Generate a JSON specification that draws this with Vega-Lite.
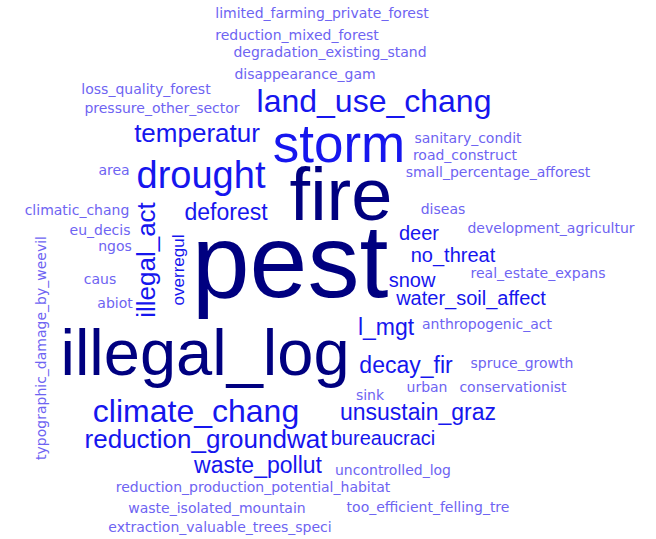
{
  "$schema": "https://vega.github.io/schema/vega-lite/v6.json",
  "width": 656,
  "height": 539,
  "autosize": {"type": "fit", "contains": "padding"},
  "padding": 0,
  "background": "white",
  "config": {"view": {"stroke": null}},
  "data": {
    "values": [
      {"word": "limited_farming_private_forest", "n": 1, "col": 322, "row": 18, "orient": "h"},
      {"word": "reduction_mixed_forest", "n": 1, "col": 297, "row": 40, "orient": "h"},
      {"word": "degradation_existing_stand", "n": 1, "col": 330, "row": 57, "orient": "h"},
      {"word": "disappearance_gam", "n": 1, "col": 305, "row": 79, "orient": "h"},
      {"word": "loss_quality_forest", "n": 1, "col": 146, "row": 94, "orient": "h"},
      {"word": "pressure_other_sector", "n": 1, "col": 162, "row": 113, "orient": "h"},
      {"word": "land_use_chang", "n": 7, "col": 374, "row": 112, "orient": "h"},
      {"word": "temperatur", "n": 5, "col": 197, "row": 142, "orient": "h"},
      {"word": "storm", "n": 14, "col": 339, "row": 162, "orient": "h"},
      {"word": "sanitary_condit", "n": 1, "col": 468, "row": 143, "orient": "h"},
      {"word": "road_construct", "n": 1, "col": 465, "row": 160, "orient": "h"},
      {"word": "small_percentage_afforest", "n": 1, "col": 498, "row": 177, "orient": "h"},
      {"word": "area", "n": 1, "col": 114, "row": 175, "orient": "h"},
      {"word": "drought", "n": 9, "col": 201, "row": 188, "orient": "h"},
      {"word": "fire", "n": 21, "col": 341, "row": 220, "orient": "h"},
      {"word": "climatic_chang", "n": 1, "col": 77, "row": 215, "orient": "h"},
      {"word": "deforest", "n": 4, "col": 226, "row": 220, "orient": "h"},
      {"word": "diseas", "n": 1, "col": 443, "row": 214, "orient": "h"},
      {"word": "development_agricultur", "n": 1, "col": 551, "row": 233, "orient": "h"},
      {"word": "eu_decis", "n": 1, "col": 100, "row": 235, "orient": "h"},
      {"word": "illegal_act", "n": 5, "col": 155, "row": 260, "orient": "v"},
      {"word": "ngos", "n": 1, "col": 115, "row": 251, "orient": "h"},
      {"word": "deer", "n": 3, "col": 419, "row": 240, "orient": "h"},
      {"word": "pest", "n": 31, "col": 290, "row": 297, "orient": "h"},
      {"word": "no_threat", "n": 3, "col": 453, "row": 262, "orient": "h"},
      {"word": "real_estate_expans", "n": 1, "col": 538, "row": 278, "orient": "h"},
      {"word": "caus", "n": 1, "col": 100, "row": 284, "orient": "h"},
      {"word": "snow", "n": 3, "col": 412, "row": 287, "orient": "h"},
      {"word": "overregul", "n": 2, "col": 184, "row": 270, "orient": "v"},
      {"word": "abiot", "n": 1, "col": 115, "row": 308, "orient": "h"},
      {"word": "water_soil_affect", "n": 3, "col": 471, "row": 305, "orient": "h"},
      {"word": "typographic_damage_by_weevil", "n": 1, "col": 46, "row": 348, "orient": "v"},
      {"word": "l_mgt", "n": 4, "col": 386, "row": 335, "orient": "h"},
      {"word": "anthropogenic_act", "n": 1, "col": 487, "row": 329, "orient": "h"},
      {"word": "illegal_log", "n": 18, "col": 205, "row": 375, "orient": "h"},
      {"word": "decay_fir", "n": 4, "col": 406, "row": 373, "orient": "h"},
      {"word": "spruce_growth", "n": 1, "col": 522, "row": 368, "orient": "h"},
      {"word": "sink", "n": 1, "col": 370, "row": 400, "orient": "h"},
      {"word": "urban", "n": 1, "col": 427, "row": 392, "orient": "h"},
      {"word": "conservationist", "n": 1, "col": 513, "row": 392, "orient": "h"},
      {"word": "climate_chang", "n": 7, "col": 196, "row": 422, "orient": "h"},
      {"word": "unsustain_graz", "n": 4, "col": 418, "row": 420, "orient": "h"},
      {"word": "reduction_groundwat", "n": 5, "col": 206, "row": 448, "orient": "h"},
      {"word": "bureaucraci", "n": 3, "col": 383, "row": 445, "orient": "h"},
      {"word": "waste_pollut", "n": 4, "col": 258, "row": 473, "orient": "h"},
      {"word": "uncontrolled_log", "n": 1, "col": 393, "row": 475, "orient": "h"},
      {"word": "reduction_production_potential_habitat", "n": 1, "col": 253, "row": 492, "orient": "h"},
      {"word": "too_efficient_felling_tre", "n": 1, "col": 428, "row": 512, "orient": "h"},
      {"word": "waste_isolated_mountain", "n": 1, "col": 217, "row": 513, "orient": "h"},
      {"word": "extraction_valuable_trees_speci", "n": 1, "col": 220, "row": 532, "orient": "h"}
    ]
  },
  "encoding": {
    "x": {"field": "col", "type": "quantitative", "scale": {"domain": [0, 656], "nice": false, "zero": false}, "axis": null},
    "y": {"field": "row", "type": "quantitative", "scale": {"domain": [0, 539], "nice": false, "zero": false, "reverse": true}, "axis": null},
    "text": {"field": "word", "type": "nominal"},
    "size": {"field": "n", "type": "quantitative", "scale": {"domain": [1, 31], "range": [14, 104], "zero": false}, "legend": null},
    "color": {"field": "n", "type": "quantitative", "scale": {"type": "threshold", "domain": [2, 15], "range": ["#6e64f2", "#1616ee", "#000080"]}, "legend": null},
    "angle": {"field": "orient", "type": "nominal", "scale": {"domain": ["h", "v"], "range": [0, 270]}, "legend": null}
  },
  "layer": [
    {
      "transform": [{"filter": "datum.n == 1"}],
      "mark": {"type": "text", "font": "DejaVu Sans", "align": "center", "baseline": "alphabetic"}
    },
    {
      "transform": [{"filter": "datum.n > 1"}],
      "mark": {"type": "text", "font": "Liberation Sans", "align": "center", "baseline": "alphabetic"}
    }
  ]
}
